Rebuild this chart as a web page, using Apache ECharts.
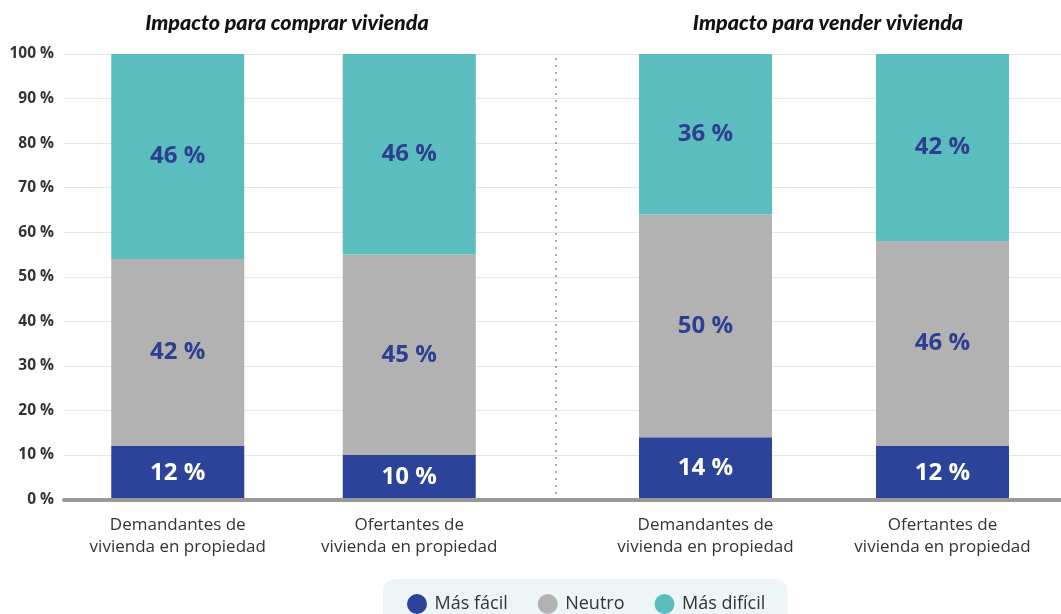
<!DOCTYPE html>
<html>
<head>
<meta charset="utf-8">
<script src="https://cdn.jsdelivr.net/npm/echarts@6/dist/echarts.min.js"></script>
<style>
html,body{margin:0;padding:0;background:#fff;}
#chart{width:1061px;height:614px;}
</style>
</head>
<body>
<div id="chart"></div>
<script>
const groupTitles = ['Impacto para comprar vivienda', 'Impacto para vender vivienda'];
const categoriesBuy = ['Demandantes de\nvivienda en propiedad', 'Ofertantes de\nvivienda en propiedad'];
const categoriesSell = ['Demandantes de\nvivienda en propiedad', 'Ofertantes de\nvivienda en propiedad'];
const seriesNames = ['Más fácil', 'Neutro', 'Más difícil'];
const buyFacil = [12, 10];
const buyNeutro = [42, 45];
const buyDificil = [46, 46];
const sellFacil = [14, 12];
const sellNeutro = [50, 46];
const sellDificil = [36, 42];
const yTicks = [0, 10, 20, 30, 40, 50, 60, 70, 80, 90, 100];

const colors = ['#2b4499', '#b2b2b2', '#5bbdbd'];
const labelColors = ['#ffffff', '#2c3f91', '#2c3f91'];
const TOP = 54, BOTTOM = 114.5;

function mkSeries(name, idx, data, axisIndex) {
  return {
    name: name, type: 'bar', stack: 's' + axisIndex,
    xAxisIndex: axisIndex, yAxisIndex: axisIndex,
    barWidth: 133, data: data,
    itemStyle: { color: colors[idx] },
    label: {
      show: true, position: 'inside',
      formatter: p => p.value + ' %',
      color: labelColors[idx], fontFamily: 'Open Sans', fontWeight: 700, fontSize: 24
    }
  };
}

const chart = echarts.init(document.getElementById('chart'), null, { renderer: 'canvas' });
chart.setOption({
  animation: false,
  color: colors,
  title: [
    { text: groupTitles[0], left: 282, top: 7, textAlign: 'center',
      textStyle: { fontFamily: 'Lato', fontStyle: 'italic', fontWeight: 900, fontSize: 21.5, color: '#111' } },
    { text: groupTitles[1], left: 823, top: 7, textAlign: 'center',
      textStyle: { fontFamily: 'Lato', fontStyle: 'italic', fontWeight: 900, fontSize: 21.5, color: '#111' } }
  ],
  legend: {
    data: seriesNames,
    left: 383, top: 579,
    padding: [15, 22, 20, 24],
    backgroundColor: '#eef5f6',
    borderRadius: 12,
    icon: 'circle', itemWidth: 25, itemHeight: 20, itemGap: 30,
    textStyle: { fontFamily: 'Open Sans', fontSize: 18, color: '#333' }
  },
  grid: [
    { left: 64, right: 0, top: TOP, bottom: BOTTOM },
    { left: 62, width: 463, top: TOP, bottom: BOTTOM },
    { left: 587, width: 478, top: TOP, bottom: BOTTOM }
  ],
  xAxis: [
    { gridIndex: 0, type: 'value', min: 0, max: 1, z: 5,
      axisLine: { show: true, lineStyle: { color: '#999', width: 4 } },
      axisTick: { show: false }, axisLabel: { show: false }, splitLine: { show: false } },
    { gridIndex: 1, type: 'category', data: categoriesBuy,
      axisLine: { show: false }, axisTick: { show: false },
      axisLabel: { margin: 15, fontFamily: 'Open Sans', fontSize: 17, color: '#333', lineHeight: 22 } },
    { gridIndex: 2, type: 'category', data: categoriesSell,
      axisLine: { show: false }, axisTick: { show: false },
      axisLabel: { margin: 15, fontFamily: 'Open Sans', fontSize: 17, color: '#333', lineHeight: 22 } }
  ],
  yAxis: [
    { gridIndex: 0, type: 'value', min: yTicks[0], max: yTicks[yTicks.length - 1], interval: 10,
      axisLine: { show: false }, axisTick: { show: false },
      axisLabel: { formatter: '{value} %', margin: 10, fontFamily: 'Open Sans', fontWeight: 700, fontSize: 15.5, color: '#333' },
      splitLine: { lineStyle: { color: '#e6e6e6', width: 1 } } },
    { gridIndex: 1, type: 'value', min: 0, max: 100, show: false, splitLine: { show: false } },
    { gridIndex: 2, type: 'value', min: 0, max: 100, show: false, splitLine: { show: false } }
  ],
  graphic: [
    { type: 'line', z: 10, shape: { x1: 556, y1: 58, x2: 556, y2: 497 },
      style: { stroke: '#555', lineWidth: 1, lineDash: [2, 5] } }
  ],
  series: [
    mkSeries(seriesNames[0], 0, buyFacil, 1),
    mkSeries(seriesNames[1], 1, buyNeutro, 1),
    mkSeries(seriesNames[2], 2, buyDificil, 1),
    mkSeries(seriesNames[0], 0, sellFacil, 2),
    mkSeries(seriesNames[1], 1, sellNeutro, 2),
    mkSeries(seriesNames[2], 2, sellDificil, 2)
  ]
});
</script>
</body>
</html>
